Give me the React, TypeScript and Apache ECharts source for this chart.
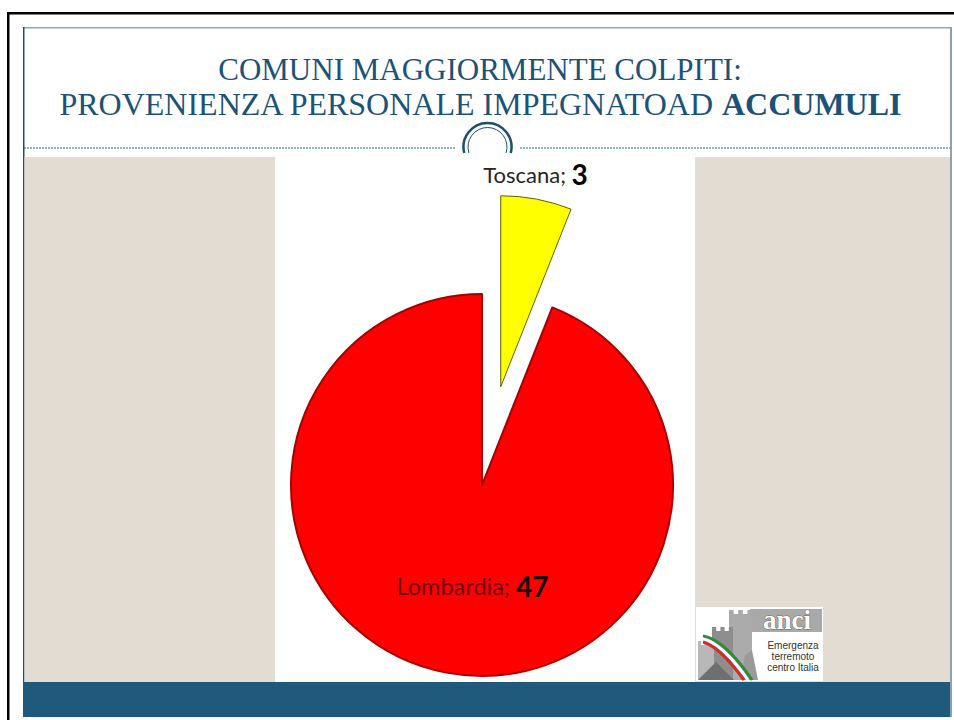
import React, { useEffect, useRef } from 'react';
import * as echarts from 'echarts';

const categories = ['Toscana', 'Lombardia'];
const values = [3, 47];
const sliceColors = ['#FFFF00', '#FF0000'];
const sliceBorders = ['#5F5F00', '#A80000'];
const titleLine1 = 'COMUNI MAGGIORMENTE COLPITI:';
const titleLine2a = 'PROVENIENZA PERSONALE IMPEGNATOAD ';
const titleLine2b = 'ACCUMULI';
const logoWord = 'anci';
const logoLines = ['Emergenza', 'terremoto', 'centro Italia'];

const BEIGE = '#E2DCD3';
const BLUE = '#1F5A7D';
const TITLE = '#1D5277';

function arcClip(r: number, cy: number, cutY: number) {
  const a = Math.asin(Math.min(1, (cutY - cy) / r));
  return { start: Math.PI - a, end: 2 * Math.PI + a };
}

export default function App() {
  const ref = useRef<HTMLDivElement>(null);
  useEffect(() => {
    const chart = echarts.init(ref.current!, null, { renderer: 'svg' });
    const outerArc = arcClip(24, 147, 153);
    const innerArc = arcClip(19.5, 147, 153);
    const crenel = (x0: number, x1: number, top: number, bottom: number) => {
      const pts: number[][] = [[x0, bottom], [x0, top]];
      const w = (x1 - x0) / 5;
      for (let i = 0; i < 5; i++) {
        const xa = x0 + i * w;
        const xb = xa + w;
        if (i % 2 === 0) {
          pts.push([xa, top], [xb, top]);
        } else {
          pts.push([xa, top + 4], [xb, top + 4]);
        }
      }
      pts.push([x1, top], [x1, bottom]);
      return pts;
    };
    const graphic: any[] = [
      // outer black frame
      { type: 'rect', shape: { x: 7, y: 12, width: 947, height: 2.5 }, style: { fill: '#000' } },
      { type: 'rect', shape: { x: 7, y: 12, width: 2.5, height: 708 }, style: { fill: '#000' } },
      // inner slide frame
      { type: 'rect', shape: { x: 23, y: 27, width: 929, height: 1.5 }, style: { fill: '#8FA8BA' } },
      { type: 'rect', shape: { x: 23, y: 27, width: 1.5, height: 690 }, style: { fill: '#1F4E6E' } },
      { type: 'rect', shape: { x: 950, y: 27, width: 2, height: 690 }, style: { fill: '#8CA2B3' } },
      // side panels
      { type: 'rect', shape: { x: 24.5, y: 157, width: 250.5, height: 525 }, style: { fill: BEIGE } },
      { type: 'rect', shape: { x: 695, y: 157, width: 255, height: 525 }, style: { fill: BEIGE } },
      // bottom band
      { type: 'rect', shape: { x: 23, y: 682, width: 927, height: 35 }, style: { fill: BLUE } },
      // dashed separator
      { type: 'line', shape: { x1: 24, y1: 148, x2: 455, y2: 148 }, style: { stroke: '#2B6288', lineWidth: 1, lineDash: [2, 1] } },
      { type: 'line', shape: { x1: 520, y1: 148, x2: 950, y2: 148 }, style: { stroke: '#2B6288', lineWidth: 1, lineDash: [2, 1] } },
      // ornament rings
      { type: 'arc', shape: { cx: 487.5, cy: 147, r: 24, startAngle: outerArc.start, endAngle: outerArc.end, clockwise: true }, style: { stroke: '#1F4E6E', lineWidth: 2.5, fill: 'none' } },
      { type: 'arc', shape: { cx: 487.5, cy: 147, r: 19.5, startAngle: innerArc.start, endAngle: innerArc.end, clockwise: true }, style: { stroke: '#1F4E6E', lineWidth: 1, fill: 'none' } },
      // title
      { type: 'text', x: 480, y: 69, style: { text: titleLine1, fill: TITLE, font: '31px "Liberation Serif"', align: 'center', verticalAlign: 'middle' } },
      {
        type: 'text', x: 480, y: 104,
        style: {
          text: '{a|' + titleLine2a + '}{b|' + titleLine2b + '}',
          align: 'center', verticalAlign: 'middle',
          rich: {
            a: { fill: TITLE, fontFamily: 'Liberation Serif', fontSize: 32 },
            b: { fill: TITLE, fontFamily: 'Liberation Serif', fontSize: 32, fontWeight: 'bold' },
          },
        },
      },
      // logo
      {
        type: 'group',
        children: [
          { type: 'rect', shape: { x: 696, y: 607, width: 127, height: 74 }, style: { fill: '#fff' } },
          { type: 'rect', shape: { x: 750, y: 609, width: 72, height: 23 }, style: { fill: '#A9A9A9' } },
          { type: 'polygon', shape: { points: crenel(729, 752, 610, 680) }, style: { fill: '#ABABAB' } },
          { type: 'polygon', shape: { points: crenel(712, 733, 627, 680) }, style: { fill: '#8E8E8E' } },
          { type: 'polygon', shape: { points: crenel(698, 714, 641, 680) }, style: { fill: '#B8B8B8' } },
          { type: 'polygon', shape: { points: [[740, 680], [745, 655], [752, 650], [758, 680]] }, style: { fill: '#9A9A9A' } },
          { type: 'polygon', shape: { points: [[698, 680], [716, 662], [734, 680]] }, style: { fill: '#6F6F6F' } },
          { type: 'bezierCurve', shape: { x1: 703, y1: 636, cpx1: 725, cpy1: 640, x2: 752, y2: 680 }, style: { stroke: '#2E8B3A', lineWidth: 3, fill: 'none' } },
          { type: 'bezierCurve', shape: { x1: 703, y1: 639, cpx1: 722, cpy1: 643, x2: 748, y2: 680 }, style: { stroke: '#FFFFFF', lineWidth: 3, fill: 'none' } },
          { type: 'bezierCurve', shape: { x1: 703, y1: 642, cpx1: 719, cpy1: 646, x2: 744, y2: 680 }, style: { stroke: '#D42A2A', lineWidth: 3, fill: 'none' } },
          { type: 'text', x: 787, y: 620, style: { text: logoWord, fill: '#FFFFFF', stroke: '#6A6A6A', lineWidth: 1, font: 'bold 27px "Liberation Serif"', align: 'center', verticalAlign: 'middle' } },
          { type: 'text', x: 793, y: 645, style: { text: logoLines[0], fill: '#333', font: '10px "Liberation Sans"', align: 'center', verticalAlign: 'middle' } },
          { type: 'text', x: 793, y: 656, style: { text: logoLines[1], fill: '#333', font: '10px "Liberation Sans"', align: 'center', verticalAlign: 'middle' } },
          { type: 'text', x: 793, y: 667, style: { text: logoLines[2], fill: '#333', font: '10px "Liberation Sans"', align: 'center', verticalAlign: 'middle' } },
        ],
      },
    ];

    const option: any = {
      animation: false,
      backgroundColor: '#FFFFFF',
      graphic,
      series: [
        {
          type: 'pie',
          center: [482, 485],
          radius: 191,
          startAngle: 90,
          clockwise: true,
          selectedMode: 'single',
          selectedOffset: 100,
          avoidLabelOverlap: false,
          emphasis: { disabled: true },
          labelLine: { show: false, length: 0, length2: 0 },
          label: {
            formatter: '{n1|{b}; }{v1|{c}}',
            rich: {
              n1: { fontFamily: 'Lato', fontSize: 22, color: '#262626' },
              v1: { fontFamily: 'Lato', fontSize: 28, fontWeight: 'bold', color: '#000' },
              n2: { fontFamily: 'Lato', fontSize: 23.5, color: '#6E0505' },
              v2: { fontFamily: 'Lato', fontSize: 28, fontWeight: 'bold', color: '#1A0000' },
            },
          },
          labelLayout: (p: any) => (p.dataIndex === 0 ? { align: 'center', verticalAlign: 'bottom', dx: -6, dy: -11 } : { dx: 9, dy: 4 }),
          data: categories.map((name, i) => ({
            name,
            value: values[i],
            selected: i === 0,
            itemStyle: { color: sliceColors[i], borderColor: sliceBorders[i], borderWidth: i === 0 ? 1 : 2 },
            label: i === 0
              ? { position: 'outside' }
              : { position: 'inside', formatter: '{n2|{b}; }{v2|{c}}' },
          })),
        },
      ],
    };
    chart.setOption(option);
    return () => chart.dispose();
  }, []);
  return <div ref={ref} style={{ position: 'absolute', left: 0, top: 0, width: 954, height: 720 }} />;
}
